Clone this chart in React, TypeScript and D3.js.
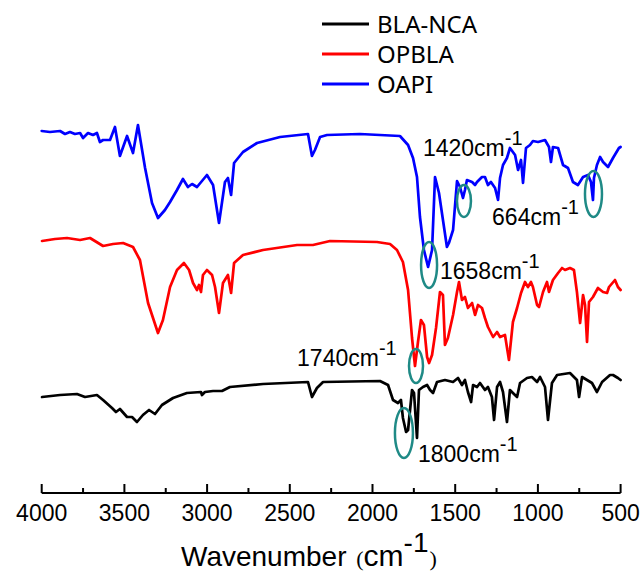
import React from 'react';
import * as d3 from 'd3';

// [wavenumber (cm-1), relative transmittance (offset, a.u.)]
const blaNcaData: [number, number][] = [
  [3998, 23.25], [3889, 23.75], [3787, 24.0], [3738, 23.25], [3666, 23.75], [3629, 22.5],
  [3575, 20.5], [3551, 19.5], [3527, 20.25], [3484, 18.25], [3454, 18.25], [3424, 17.0],
  [3388, 18.75], [3351, 20.0], [3315, 19.0], [3273, 21.25], [3206, 23.0], [3122, 24.25],
  [3037, 24.5], [3031, 23.75], [3013, 24.5], [2964, 24.75], [2910, 24.75], [2862, 25.75],
  [2662, 26.5], [2390, 27.0], [2366, 23.25], [2336, 25.5], [2299, 27.0], [1955, 27.25],
  [1906, 26.25], [1876, 22.5], [1846, 21.75], [1828, 22.5], [1816, 18.0], [1797, 14.5],
  [1785, 15.0], [1761, 25.0], [1749, 24.25], [1731, 13.0], [1719, 25.0], [1695, 25.75],
  [1670, 26.25], [1652, 25.0], [1634, 24.25], [1610, 27.0], [1562, 27.5], [1513, 27.0],
  [1483, 28.0], [1459, 26.25], [1441, 27.5], [1423, 24.5], [1404, 22.0], [1392, 26.25],
  [1368, 25.75], [1350, 26.75], [1320, 25.0], [1302, 25.75], [1278, 23.25], [1265, 17.5],
  [1247, 25.75], [1229, 27.0], [1211, 24.5], [1187, 17.0], [1169, 25.0], [1151, 24.25],
  [1126, 23.25], [1108, 26.75], [1066, 28.0], [1036, 28.25], [1005, 27.0], [987, 28.25],
  [957, 25.75], [939, 17.5], [915, 26.75], [884, 28.75], [806, 29.25], [764, 27.5],
  [751, 23.25], [733, 28.25], [703, 27.5], [673, 26.75], [643, 24.5], [612, 27.0],
  [564, 28.75], [546, 28.75], [516, 28.0], [500, 27.5],
];

const opblaData: [number, number][] = [
  [3998, 62.25], [3920, 62.75], [3847, 63.0], [3768, 62.5], [3708, 63.0], [3629, 61.0],
  [3569, 61.5], [3508, 61.75], [3448, 60.75], [3406, 57.5], [3357, 46.75], [3297, 39.25],
  [3267, 42.5], [3224, 50.75], [3182, 55.0], [3140, 56.75], [3109, 55.0], [3085, 51.75],
  [3061, 50.0], [3049, 51.25], [3037, 49.5], [3025, 53.75], [3001, 55.0], [2970, 53.75],
  [2952, 50.75], [2928, 44.25], [2904, 51.75], [2874, 53.75], [2855, 49.25], [2837, 56.75],
  [2783, 58.75], [2662, 60.0], [2456, 61.25], [2360, 61.25], [2257, 62.25], [1973, 62.0],
  [1894, 61.5], [1852, 60.0], [1816, 57.0], [1785, 50.0], [1761, 38.0], [1743, 31.0],
  [1725, 37.0], [1707, 42.5], [1689, 41.25], [1670, 33.25], [1658, 31.75], [1640, 33.75],
  [1616, 40.5], [1592, 49.5], [1574, 48.75], [1562, 36.25], [1544, 38.0], [1513, 43.75],
  [1489, 49.5], [1477, 52.0], [1459, 47.5], [1441, 48.25], [1423, 45.5], [1398, 46.75],
  [1380, 43.75], [1362, 46.25], [1338, 45.5], [1320, 43.0], [1302, 40.75], [1271, 38.25],
  [1247, 39.5], [1229, 38.25], [1199, 38.75], [1175, 32.5], [1151, 42.0], [1126, 45.5],
  [1102, 49.25], [1078, 52.0], [1060, 50.75], [1042, 52.0], [1030, 50.75], [1005, 46.25],
  [993, 45.75], [969, 49.5], [945, 52.0], [933, 49.5], [909, 52.5], [878, 54.25],
  [854, 55.5], [836, 55.0], [806, 55.5], [782, 55.0], [764, 49.5], [745, 41.75],
  [727, 48.75], [715, 46.25], [703, 37.0], [691, 47.0], [667, 48.25], [637, 50.5],
  [606, 49.5], [582, 49.25], [570, 50.75], [534, 52.5], [516, 50.75], [500, 50.0],
];

const oapiData: [number, number][] = [
  [4000, 89.75], [3950, 89.5], [3889, 89.75], [3859, 89.0], [3829, 89.5], [3799, 89.0],
  [3768, 89.25], [3750, 88.0], [3720, 89.25], [3690, 88.75], [3666, 89.25], [3648, 87.0],
  [3629, 87.5], [3587, 87.5], [3557, 90.75], [3527, 83.5], [3484, 88.5], [3448, 84.25],
  [3418, 91.25], [3375, 80.5], [3333, 71.75], [3297, 68.0], [3255, 70.0], [3224, 72.0],
  [3182, 75.0], [3146, 77.75], [3116, 75.75], [3091, 76.5], [3061, 75.75], [3001, 78.75],
  [2964, 76.25], [2928, 66.75], [2892, 77.0], [2874, 78.0], [2855, 73.75], [2837, 81.75],
  [2783, 84.5], [2698, 86.75], [2559, 88.25], [2390, 89.0], [2366, 83.5], [2348, 85.0],
  [2317, 88.25], [2275, 88.75], [2076, 89.0], [1834, 88.5], [1785, 86.25], [1755, 83.0],
  [1731, 78.25], [1713, 68.25], [1689, 60.0], [1664, 55.75], [1640, 60.0], [1622, 78.25],
  [1598, 74.25], [1574, 67.5], [1550, 60.75], [1538, 61.75], [1513, 65.0], [1489, 77.25],
  [1471, 75.75], [1453, 73.0], [1441, 75.0], [1429, 77.5], [1398, 77.0], [1380, 76.25],
  [1368, 77.0], [1338, 78.25], [1320, 78.25], [1302, 76.25], [1284, 77.0], [1259, 75.5],
  [1241, 72.5], [1229, 78.0], [1211, 81.25], [1187, 83.0], [1169, 85.5], [1138, 83.75],
  [1120, 80.0], [1102, 82.5], [1090, 76.75], [1072, 85.5], [1048, 86.25], [1030, 87.25],
  [999, 87.0], [957, 87.5], [933, 85.75], [921, 82.0], [909, 85.75], [878, 85.5],
  [848, 81.25], [818, 80.5], [788, 77.0], [758, 76.25], [727, 78.25], [697, 78.75],
  [679, 77.0], [667, 72.5], [661, 78.0], [643, 81.25], [624, 83.25], [606, 82.0],
  [576, 80.75], [546, 83.0], [510, 85.5], [500, 85.75],
];

const seriesNames = ['BLA-NCA', 'OPBLA', 'OAPI'];
const seriesColors = ['#000000', '#ff0000', '#0000ff'];
const seriesData = [blaNcaData, opblaData, oapiData];

const majorTicks = [4000, 3500, 3000, 2500, 2000, 1500, 1000, 500];
const minorTicks = [3750, 3250, 2750, 2250, 1750, 1250, 750];

// peak annotations: label, ellipse centre [wavenumber, value], label anchor [wavenumber, value]
const peakLabels = ['1420', '664', '1658', '1740', '1800'];
const ellipseCenters: [number, number][] = [[1447, 72.25], [664, 74], [1658, 56.25], [1737, 31], [1810, 14.25]];
const ellipseRadii: [number, number][] = [[7, 16], [8.5, 23], [8, 23], [7, 17], [9, 25]];
const labelAnchors: [number, number][] = [[1695, 83.5], [1277, 66.25], [1592, 52.75], [2456, 31], [1725, 7]];

const W = 643;
const H = 572;

export default function App() {
  const x = d3.scaleLinear().domain([4000, 500]).range([41.7, 620.6]);
  const y = d3.scaleLinear().domain([0, 100]).range([490, 90]);
  const line = d3
    .line<[number, number]>()
    .x((d) => x(d[0]))
    .y((d) => y(d[1]));
  const axisY = 493;
  const tealColor = '#1f8a86';
  const sans = 'Arial, "Liberation Sans", sans-serif';
  const serif = '"Liberation Serif", "Times New Roman", serif';

  return (
    <svg
      width={W}
      height={H}
      viewBox={`0 0 ${W} ${H}`}
      style={{ position: 'absolute', left: 0, top: 0, background: '#fff' }}
    >
      <rect width={W} height={H} fill="#fff" />
      {seriesData.map((d, i) => (
        <path
          key={seriesNames[i]}
          d={line(d) || ''}
          fill="none"
          stroke={seriesColors[i]}
          strokeWidth={2.7}
          strokeLinejoin="round"
          strokeLinecap="round"
        />
      ))}

      {/* axis */}
      <line x1={x(4000)} x2={x(500)} y1={axisY} y2={axisY} stroke="#000" strokeWidth={2} />
      {majorTicks.map((t) => (
        <g key={t}>
          <line x1={x(t)} x2={x(t)} y1={axisY} y2={axisY - 9} stroke="#000" strokeWidth={2} />
          <text x={x(t)} y={axisY + 28} textAnchor="middle" fontFamily={sans} fontSize={23} fill="#000">
            {t}
          </text>
        </g>
      ))}
      {minorTicks.map((t) => (
        <line key={t} x1={x(t)} x2={x(t)} y1={axisY} y2={axisY - 5} stroke="#000" strokeWidth={2} />
      ))}

      {/* axis title */}
      <text x={181} y={566} fontFamily={sans} fontSize={28} fill="#000">
        <tspan>Wavenumber </tspan>
        <tspan fontFamily={serif} fontSize={22} dx={2}>(</tspan>
        <tspan fontSize={30}>cm</tspan>
        <tspan fontSize={28} dy={-14}>-1</tspan>
        <tspan fontFamily={serif} fontSize={22} dy={14} dx={1}>)</tspan>
      </text>

      {/* legend */}
      {seriesNames.map((name, i) => {
        const ly = 24 + i * 30;
        return (
          <g key={name}>
            <line x1={322} x2={369} y1={ly} y2={ly} stroke={seriesColors[i]} strokeWidth={3} />
            <text x={377} y={ly + 9} fontFamily='"Noto Sans", sans-serif' fontSize={24} fill="#000">
              {name}
            </text>
          </g>
        );
      })}

      {/* annotations */}
      {peakLabels.map((lab, i) => (
        <g key={lab}>
          <ellipse
            cx={x(ellipseCenters[i][0])}
            cy={y(ellipseCenters[i][1])}
            rx={ellipseRadii[i][0]}
            ry={ellipseRadii[i][1]}
            fill="none"
            stroke={tealColor}
            strokeWidth={2.5}
          />
          <text x={x(labelAnchors[i][0])} y={y(labelAnchors[i][1])} fontFamily={sans} fontSize={23} fill="#000">
            <tspan>{lab}cm</tspan>
            <tspan fontSize={20} dy={-11}>-1</tspan>
          </text>
        </g>
      ))}
    </svg>
  );
}
